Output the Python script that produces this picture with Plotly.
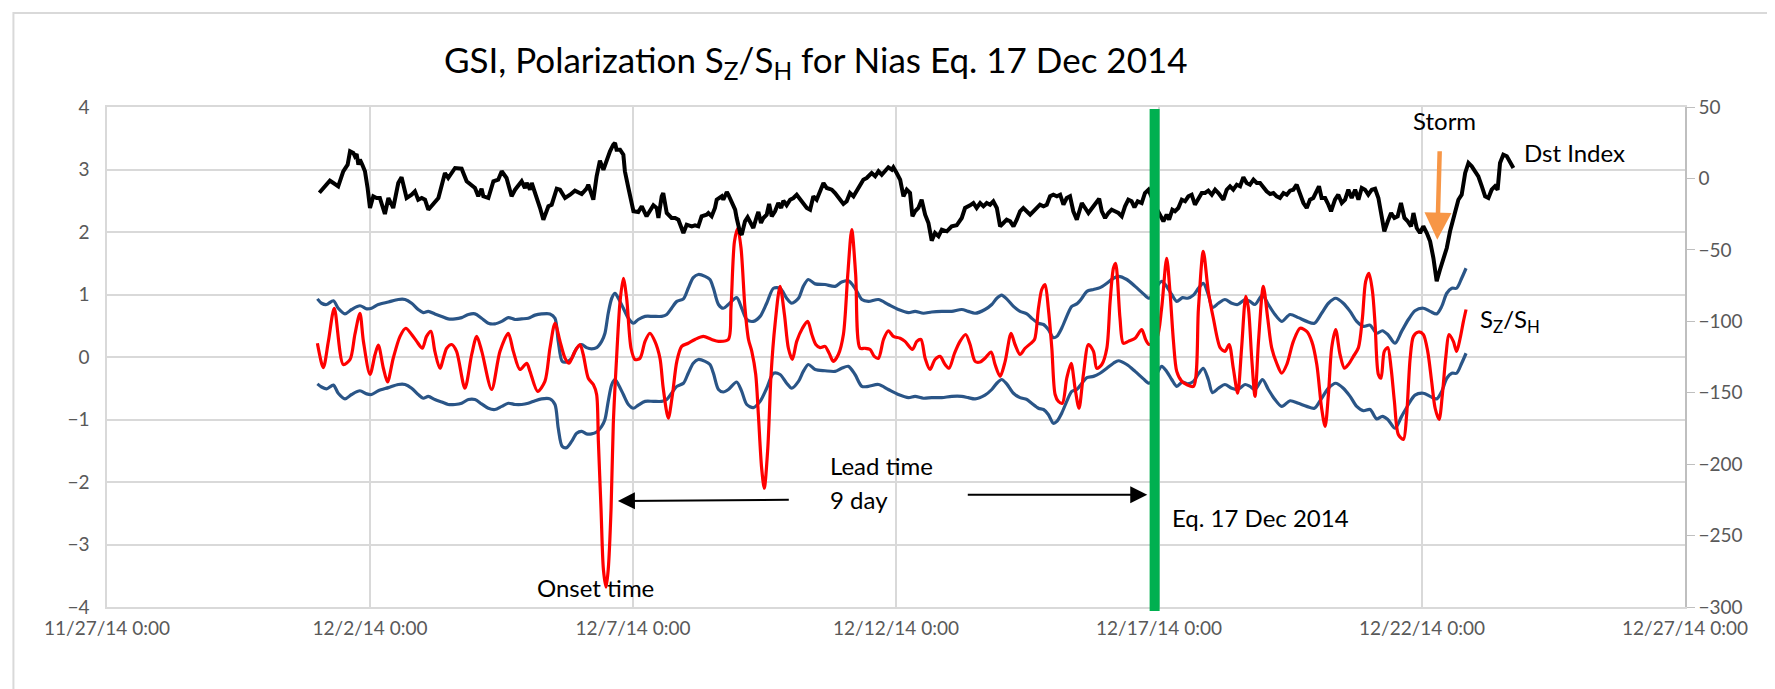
import pandas as pd
import plotly.graph_objects as go

# ---------------- data (hours after 2014-12-01 00:00) ----------------
dst_hours = [
    0.9, 3.5, 5.7, 7.3, 9.5, 11.8, 13.8, 14.9, 16.4, 17.1,
    17.9, 18.7, 19.4, 20.5, 21.7, 22.9, 24.0, 25.5, 27.0, 28.5,
    30.8, 32.4, 34.6, 36.9, 38.4, 40.7, 43.0, 44.5, 46.0, 47.6,
    49.1, 50.6, 52.9, 55.2, 58.2, 59.7, 62.8, 64.3, 65.8, 68.1,
    70.4, 71.9, 73.4, 74.9, 75.7, 78.0, 80.3, 82.5, 84.1, 86.3,
    88.6, 90.2, 93.2, 94.7, 95.5, 97.0, 97.8, 100.0, 101.6, 103.1,
    105.4, 106.9, 109.2, 110.7, 113.0, 115.3, 117.5, 120.6, 122.8, 123.6,
    125.9, 127.4, 128.9, 130.5, 132.0, 133.5, 135.0, 135.8, 136.5, 138.1,
    139.6, 140.3, 141.9, 144.2, 146.4, 148.0, 150.2, 153.3, 154.8, 155.6,
    157.1, 157.8, 159.4, 161.6, 163.2, 164.7, 167.0, 168.5, 170.8, 172.3,
    173.8, 175.3, 177.6,
    178.4, 179.9, 181.4, 182.2, 183.7, 184.5, 185.2, 186.8, 187.5, 189.0,
    190.6, 191.3, 192.9, 193.6, 195.1, 196.3, 197.4, 198.9, 200.5, 201.2,
    202.4, 203.5, 205.0, 206.1, 207.3, 208.8, 210.3, 211.6, 212.6, 214.1,
    215.7, 217.2, 218.7, 221.0, 223.3, 224.8, 226.3, 227.8, 229.4, 230.9,
    232.4, 234.7, 236.2, 238.5, 240.0, 241.5, 243.0, 244.6, 246.1, 247.6,
    249.1, 250.6, 252.9, 254.5, 256.0, 257.5, 259.0, 260.5, 262.1, 262.8,
    264.3, 265.9, 267.4, 268.9, 270.4, 271.5, 272.7, 274.2, 275.7, 277.3,
    278.8, 280.3, 281.8, 283.4, 284.9, 287.2, 289.4, 291.7, 294.0, 295.5,
    297.8, 299.3, 300.8, 302.4, 303.9, 305.4, 306.9, 308.4, 310.0, 311.5,
    313.0, 314.5, 316.1, 317.6, 319.1, 320.6, 322.1, 323.7, 325.2, 326.7,
    328.2, 329.7, 331.3, 332.8, 334.3, 335.8, 337.4, 338.9, 340.4, 341.9,
    343.4, 344.9, 346.5, 348.0, 348.8, 350.3, 351.8, 354.1, 355.6, 356.7,
    357.9, 359.4,
    360.9, 362.4, 363.9, 365.5, 367.0, 368.5, 370.0, 371.5, 372.8, 374.3,
    376.1, 377.6, 379.2, 382.5, 386.0, 387.5, 388.6, 390.1, 391.3, 392.8,
    394.4, 395.9, 397.4, 398.9, 400.4, 402.0, 403.5, 405.0, 406.5, 408.1,
    409.6, 411.1, 413.4, 414.9, 416.4, 417.9, 419.5, 421.0, 422.5, 424.0,
    425.5, 427.1, 428.6, 430.1, 431.6, 433.1, 434.7, 436.2, 437.7, 439.2,
    440.8, 442.3, 443.8, 445.3, 446.8, 448.4, 449.9, 451.4, 452.9, 454.4,
    456.0, 457.0, 458.2, 459.8, 461.3, 462.5, 464.3, 465.8, 467.4, 468.9,
    470.4, 471.9, 473.5, 475.0, 476.5, 478.0, 479.5, 481.1, 482.6, 484.1,
    485.6, 486.8, 488.4, 489.9, 491.4, 492.9, 494.4, 496.0, 497.5, 499.0,
    500.1, 501.6, 503.1, 504.6, 506.2, 507.7, 509.2, 510.7, 512.2, 513.8,
    515.3, 516.8, 519.1, 520.6, 522.1, 523.7, 525.2, 526.7, 528.2, 529.7,
    531.3, 532.8, 534.3, 535.8, 537.3, 538.5, 539.6, 541.1, 542.7, 544.2,
    545.7,
]
dst_values = [
    -10, -5.5, -1.6, -3.2, -5.5, 5.0, 9.6, 19.0, 17.8, 15.5,
    17.1, 9.6, 13.1, 9.6, 5.0, -6.7, -20.7, -12.5, -13.7, -13.7,
    -24.9, -13.7, -20.7, -3.2, 0.8, -13.7, -11.4, -9.0, -14.9, -13.7,
    -14.9, -21.9, -17.9, -13.7, 3.8, 0.3, 7.3, 7.3, 6.8, -2.0,
    -4.8, -6.7, -12.5, -7.2, -12.5, -13.7, -2.0, -0.9, 5.0, 0.3,
    -12.5, -7.9, -2.0, -6.7, -3.2, -7.9, -3.2, -12.5, -20.7, -28.9,
    -19.5, -18.4, -7.2, -7.9, -13.7, -11.4, -8.6, -10.9, -7.2, -4.4,
    -14.9, 1.5, 12.4, 6.1, 13.1, 19.0, 23.6, 24.8, 20.1, 20.1,
    16.6, 5.0, -6.7, -23.0, -23.5, -19.5, -26.5, -18.8, -20.7, -27.7,
    -12.5, -10.2, -24.2, -27.7, -27.7, -28.9, -38.2, -32.4, -33.5, -32.8,
    -33.5, -26.5, -25.4,
    -24.2, -26.5, -20.7, -14.9, -13.7, -12.5, -14.9, -9.5, -11.4, -17.2,
    -21.9, -27.7, -38.2, -39.4, -30.0, -27.2, -30.0, -34.7, -26.5, -23.5,
    -31.2, -27.7, -25.4, -17.9, -26.5, -23.0, -17.2, -20.7, -15.6, -18.8,
    -14.9, -13.7, -11.4, -16.0, -20.7, -21.9, -12.5, -14.9, -9.0, -3.2,
    -6.7, -7.9, -10.2, -14.9, -17.9, -16.0, -10.2, -12.5, -9.0, -5.5,
    -0.9, 0.3, 3.8, 1.5, 5.0, 2.6, 5.0, 7.8, 6.1, 7.8,
    3.8, -0.9, -12.5, -7.9, -10.2, -26.5, -23.0, -20.7, -14.9, -25.4,
    -31.2, -43.6, -38.2, -40.5, -35.9, -37.0, -33.5, -32.8, -27.7, -20.7,
    -18.8, -17.2, -20.7, -17.2, -19.5, -17.2, -18.4, -16.0, -20.7, -33.5,
    -31.2, -28.9, -30.0, -33.5, -28.9, -23.0, -20.7, -23.0, -25.4, -23.0,
    -20.7, -18.4, -19.5, -18.4, -12.5, -11.4, -12.5, -11.4, -18.4, -13.7,
    -12.5, -23.0, -28.9, -20.7, -17.2, -20.7, -24.2, -19.5, -16.0, -14.2,
    -23.0, -27.7,
    -24.2, -21.9, -23.0, -24.2, -26.5, -19.5, -14.9, -16.0, -20.2, -16.0,
    -17.2, -10.2, -7.9, -20.0, -30.0, -25.4, -28.9, -21.9, -23.0, -20.7,
    -14.9, -16.0, -12.5, -11.4, -18.4, -13.7, -10.2, -10.2, -8.6, -11.4,
    -7.9, -10.2, -14.9, -7.9, -5.5, -7.9, -4.4, -5.5, 0.8, -3.2,
    -4.4, -0.9, -3.2, -3.2, -6.7, -9.0, -10.9, -10.2, -12.5, -13.7,
    -10.2, -11.4, -8.6, -7.9, -4.4, -10.2, -17.2, -20.7, -14.9, -13.7,
    -8.6, -5.5, -13.7, -13.7, -18.4, -23.0, -14.9, -11.4, -17.2, -14.9,
    -7.9, -13.7, -7.9, -14.9, -6.7, -7.9, -11.4, -7.9, -7.2, -13.7,
    -26.5, -37.0, -30.0, -24.2, -27.7, -26.5, -17.2, -27.7, -30.0, -33.5,
    -24.2, -34.7, -38.2, -33.5, -38.2, -44.0, -55.7, -72.0, -63.9, -55.7,
    -48.7, -37.0, -24.2, -14.9, -11.4, 3.8, 10.8, 8.5, 5.0, 1.5,
    -5.5, -12.5, -13.7, -7.9, -5.5, -7.9, 10.8, 16.6, 15.5, 12.0,
    7.3,
]

ratio_hours = [
    0.0, 2.7, 5.0, 7.7, 11.8, 14.9, 17.1, 19.4, 21.0, 24.0,
    26.3, 27.8, 30.1, 32.0, 34.6, 37.7, 40.3, 43.0, 45.3, 47.9,
    49.8, 51.8, 53.6, 55.9, 59.0, 61.3, 63.5, 67.3, 70.4, 72.7,
    75.0, 79.5, 83.3, 87.1, 89.4, 92.4, 95.5, 97.0, 100.5, 103.8,
    106.1, 108.4, 110.7, 113.0, 114.8, 117.5, 119.8, 121.3, 123.6, 125.9,
    127.4, 128.2, 129.4, 130.5, 131.7, 132.7, 134.0, 135.0, 136.5, 138.1,
    139.6, 141.1, 143.1, 144.9, 147.2, 149.5, 151.7, 154.0, 156.3, 157.8,
    160.1, 162.0, 164.0, 166.2, 169.2, 172.3, 176.1, 179.9, 183.0, 187.5,
    188.7, 190.3, 191.8, 193.3, 195.1, 196.7, 198.2, 200.0, 201.2, 202.7,
    203.9, 205.5, 207.0, 208.8, 211.1, 213.1, 214.9, 216.7, 218.7, 221.3,
    223.7, 225.6, 227.4, 229.4, 231.6, 233.5, 235.4, 237.7, 240.0, 242.0,
    243.8, 245.6, 247.6, 249.9, 252.2, 254.1, 256.0, 258.3, 260.5, 262.8,
    265.9, 268.1, 271.5, 273.5, 275.4, 277.3, 279.5, 281.8, 284.1, 286.4,
    288.2, 290.7, 293.2, 295.8, 297.8, 300.1, 302.4, 304.6, 307.4, 309.2,
    311.5, 313.8, 316.5, 318.3, 320.6, 322.9, 325.2, 327.2, 329.0, 330.5,
    332.0, 333.5, 335.1, 336.6, 338.1, 339.9, 341.9, 343.9, 345.7, 347.5,
    349.5, 351.8, 354.1, 355.6, 357.9, 360.2, 361.7, 363.2, 364.2, 366.2,
    367.7, 370.0, 373.1, 376.1, 377.9, 379.5, 383.0, 385.2, 387.5, 389.0,
    390.6, 392.1, 394.4, 396.6, 399.7, 402.0, 404.2, 406.5, 408.8, 411.9,
    414.1, 416.0, 417.9, 419.9, 421.7, 423.6, 424.8, 426.3, 427.8, 429.4,
    431.6, 433.6, 435.4, 437.7, 440.0, 442.3, 445.3, 448.4, 451.4, 453.7,
    456.0, 458.2, 459.8, 461.3, 462.8, 464.6, 466.6, 468.6, 470.4, 472.7,
    475.0, 476.8, 478.3, 479.8, 481.4, 482.6, 484.1, 485.3, 486.8, 488.4,
    489.9, 491.4, 493.2, 495.5, 497.0, 498.6, 500.1, 502.4, 504.6, 506.6,
    508.4, 510.0, 511.8, 513.3, 514.8, 516.4, 518.3, 519.8, 521.4, 522.9,
    524.1,
]
ratio_values = [
    0.22, -0.17, 0.25, 0.78, -0.12, -0.04, 0.36, 0.70, 0.25, -0.28,
    0.04, 0.19, -0.18, -0.40, -0.02, 0.33, 0.46, 0.36, 0.25, 0.14,
    0.33, 0.41, 0.09, -0.18, 0.14, 0.20, 0.09, -0.50, 0.04, 0.33,
    0.09, -0.52, 0.09, 0.38, 0.09, -0.20, -0.10, -0.23, -0.55, -0.39,
    0.14, 0.54, 0.25, -0.02, -0.10, 0.09, 0.20, 0.04, -0.34, -0.44,
    -0.60, -1.35, -2.42, -3.40, -3.68, -3.40, -2.42, -1.08, -0.02, 0.89,
    1.26, 0.94, 0.14, -0.04, -0.02, 0.25, 0.38, 0.25, -0.02, -0.50,
    -0.98, -0.60, -0.07, 0.17, 0.22, 0.28, 0.33, 0.28, 0.25, 0.28,
    0.78, 1.85, 2.06, 1.74, 0.78, 0.28, 0.09, -0.28, -0.92, -1.78,
    -2.10, -1.46, -0.28, 0.52, 1.13, 0.68, 0.14, -0.04, 0.25, 0.46,
    0.57, 0.36, 0.20, 0.15, 0.17, 0.06, -0.07, 0.04, 0.36, 1.32,
    2.04, 1.32, 0.14, 0.14, 0.12, 0.01, -0.02, 0.28, 0.42, 0.33,
    0.30, 0.25, 0.12, 0.25, 0.28, -0.02, -0.20, -0.04, 0.01, -0.12,
    -0.18, 0.06, 0.25, 0.36, 0.20, -0.07, -0.08, -0.02, 0.08, -0.12,
    -0.31, -0.07, 0.38, 0.20, 0.04, 0.14, 0.21, 0.28, 0.78, 1.08,
    1.16, 0.78, 0.14, -0.60, -0.71, -0.74, -0.34, -0.10, -0.50, -0.82,
    -0.28, 0.20, 0.09, -0.18, -0.12, 0.14, 0.89, 1.42, 1.50, 0.62,
    0.22, 0.25, 0.30, 0.44, 0.28, 0.20, 0.30, 0.78, 1.58, 1.05,
    0.25, -0.23, -0.39, -0.44, -0.47, 0.78, 1.69, 1.05, 0.62, 0.15,
    0.09, 0.20, -0.18, -0.58, 0.15, 0.97, 0.78, -0.02, -0.63, 0.25,
    1.13, 0.62, 0.15, -0.10, -0.26, -0.12, 0.25, 0.46, 0.41, 0.25,
    -0.12, -0.82, -1.11, -0.60, 0.15, 0.44, 0.04, -0.18, -0.12, 0.01,
    0.15, 0.62, 1.21, 1.34, 1.05, 0.52, -0.28, -0.34, 0.09, 0.15,
    -0.18, -0.71, -1.24, -1.32, -0.92, -0.02, 0.33, 0.40, 0.36, 0.09,
    -0.39, -0.82, -1.00, -0.60, -0.02, 0.36, 0.25, 0.09, 0.30, 0.57,
    0.76,
]

band_hours = [
    0.0, 1.9, 4.2, 7.3, 9.5, 12.6, 15.6, 19.4, 22.5, 24.7,
    27.8, 32.4, 36.9, 40.0, 43.0, 46.0, 48.3, 50.6, 53.6, 56.7,
    59.7, 62.8, 65.8, 68.9, 71.9, 74.9, 78.0, 81.0, 84.1, 87.1,
    90.2, 93.2, 96.2, 99.3, 102.3, 106.1, 108.4, 109.9, 111.7, 113.7,
    116.0, 118.3, 120.6, 122.8, 125.1, 127.4, 129.7, 131.2, 132.7, 134.3,
    135.8, 137.3, 139.6, 141.9, 144.2, 146.4, 149.5, 153.3, 157.1, 159.4,
    161.6, 164.0, 167.0, 169.2, 171.5, 173.8, 176.9, 179.1, 180.7, 183.0,
    185.2, 187.5, 191.3, 193.6, 195.9, 198.9, 202.0, 205.0, 208.1, 211.1,
    214.1, 216.4, 219.5, 221.7, 224.0, 227.1, 231.6, 236.2, 239.2, 242.3,
    245.3, 248.4, 251.4, 256.0, 260.5, 265.1, 269.7, 272.7, 276.5, 280.3,
    284.9, 289.4, 294.0, 297.0, 300.1, 304.6, 307.7, 310.0, 312.2, 314.5,
    317.6, 320.6, 323.7, 325.9, 329.0, 331.3, 333.5, 335.8, 337.4, 339.6,
    341.9, 344.2, 346.5, 348.8, 351.1, 354.1, 357.1, 360.2, 363.2, 365.5,
    369.3, 373.1, 376.9, 379.5, 382.5, 385.2, 387.5, 389.8, 392.1, 394.7,
    397.1, 399.7, 402.0, 404.2, 406.5, 408.4, 411.1, 414.1, 417.2, 419.9,
    423.3, 425.5, 427.8, 431.2, 433.9, 436.9, 440.0, 443.8, 447.6, 451.4,
    454.9, 458.2, 461.3, 464.6, 468.1, 471.2, 474.2, 477.3, 480.3, 483.3,
    485.9, 488.4, 491.7, 494.7, 497.8, 500.8, 504.6, 507.7, 510.7, 513.0,
    515.3, 517.6, 519.8, 522.1, 524.1,
]
upper_values = [
    0.93, 0.86, 0.84, 0.90, 0.78, 0.69, 0.76, 0.82, 0.77, 0.78,
    0.84, 0.88, 0.92, 0.92, 0.86, 0.76, 0.71, 0.73, 0.69, 0.65,
    0.61, 0.61, 0.63, 0.68, 0.69, 0.62, 0.54, 0.53, 0.57, 0.63,
    0.60, 0.61, 0.62, 0.67, 0.69, 0.69, 0.62, 0.25, -0.07, -0.08,
    -0.02, 0.14, 0.20, 0.15, 0.13, 0.15, 0.25, 0.38, 0.70, 0.94,
    1.02, 0.94, 0.78, 0.62, 0.54, 0.60, 0.65, 0.65, 0.65, 0.68,
    0.78, 0.89, 0.93, 1.10, 1.27, 1.32, 1.29, 1.24, 1.10, 0.84,
    0.78, 0.84, 0.95, 0.78, 0.60, 0.57, 0.65, 0.86, 1.10, 1.10,
    0.94, 0.86, 0.94, 1.13, 1.24, 1.17, 1.16, 1.13, 1.20, 1.22,
    1.10, 0.92, 0.89, 0.92, 0.84, 0.76, 0.71, 0.73, 0.70, 0.72,
    0.73, 0.73, 0.76, 0.73, 0.70, 0.76, 0.84, 0.94, 0.99, 0.93,
    0.81, 0.73, 0.69, 0.62, 0.54, 0.52, 0.44, 0.31, 0.33, 0.46,
    0.65, 0.81, 0.85, 0.94, 1.05, 1.08, 1.11, 1.18, 1.26, 1.29,
    1.24, 1.13, 1.01, 0.94, 1.10, 1.21, 1.13, 1.00, 0.89, 0.95,
    0.94, 0.99, 1.10, 1.18, 1.00, 0.79, 0.86, 0.92, 0.86, 0.84,
    0.92, 0.89, 0.84, 0.99, 0.84, 0.68, 0.57, 0.68, 0.63, 0.57,
    0.54, 0.70, 0.86, 0.94, 0.86, 0.73, 0.57, 0.49, 0.51, 0.38,
    0.42, 0.36, 0.22, 0.41, 0.60, 0.74, 0.78, 0.73, 0.69, 0.81,
    1.02, 1.10, 1.10, 1.26, 1.42,
]
lower_values = [
    -0.43, -0.48, -0.51, -0.45, -0.58, -0.67, -0.60, -0.54, -0.59, -0.60,
    -0.54, -0.49, -0.44, -0.44, -0.50, -0.60, -0.66, -0.63, -0.68, -0.72,
    -0.76, -0.76, -0.74, -0.68, -0.68, -0.75, -0.82, -0.84, -0.79, -0.74,
    -0.76, -0.76, -0.74, -0.70, -0.67, -0.67, -0.76, -1.14, -1.43, -1.45,
    -1.35, -1.22, -1.19, -1.23, -1.23, -1.20, -1.11, -1.00, -0.71, -0.44,
    -0.36, -0.44, -0.60, -0.76, -0.82, -0.77, -0.71, -0.71, -0.71, -0.68,
    -0.58, -0.47, -0.42, -0.26, -0.10, -0.04, -0.07, -0.12, -0.26, -0.52,
    -0.56, -0.52, -0.40, -0.55, -0.76, -0.81, -0.71, -0.50, -0.26, -0.28,
    -0.42, -0.50, -0.39, -0.23, -0.12, -0.20, -0.22, -0.23, -0.18, -0.15,
    -0.28, -0.47, -0.47, -0.44, -0.52, -0.60, -0.65, -0.63, -0.66, -0.65,
    -0.65, -0.63, -0.63, -0.65, -0.67, -0.61, -0.52, -0.42, -0.36, -0.43,
    -0.58, -0.65, -0.68, -0.74, -0.82, -0.84, -0.92, -1.06, -1.03, -0.90,
    -0.71, -0.55, -0.52, -0.42, -0.33, -0.31, -0.26, -0.18, -0.10, -0.06,
    -0.12, -0.23, -0.35, -0.42, -0.30, -0.15, -0.23, -0.36, -0.47, -0.40,
    -0.43, -0.39, -0.27, -0.18, -0.36, -0.57, -0.50, -0.44, -0.50, -0.52,
    -0.44, -0.47, -0.52, -0.36, -0.52, -0.68, -0.79, -0.70, -0.74, -0.79,
    -0.82, -0.66, -0.50, -0.42, -0.50, -0.63, -0.79, -0.86, -0.84, -0.99,
    -0.95, -1.00, -1.14, -0.95, -0.76, -0.61, -0.58, -0.63, -0.67, -0.55,
    -0.34, -0.26, -0.26, -0.10, 0.06,
]

x_ticks = ["2014-11-27", "2014-12-02", "2014-12-07", "2014-12-12",
           "2014-12-17", "2014-12-22", "2014-12-27"]
title_text = "GSI, Polarization S<sub>Z</sub>/S<sub>H</sub> for Nias Eq. 17 Dec 2014"
eq_time = "2014-12-16 22:00"

assert len(dst_hours) == len(dst_values)
assert len(ratio_hours) == len(ratio_values)
assert len(band_hours) == len(upper_values) == len(lower_values)

base = pd.Timestamp("2014-12-01")
def to_time(hours):
    return base + pd.to_timedelta(pd.Series(hours), unit="h")

FONT = "Lato, 'Open Sans', sans-serif"
GRID = "#D9D9D9"
TICKC = "#595959"
BLUE = "#2A5587"

fig = go.Figure()
fig.add_trace(go.Scatter(x=to_time(band_hours), y=upper_values, mode="lines",
                         line=dict(color=BLUE, width=3.2, shape="spline", smoothing=0.8),
                         hoverinfo="skip"))
fig.add_trace(go.Scatter(x=to_time(band_hours), y=lower_values, mode="lines",
                         line=dict(color=BLUE, width=3.2, shape="spline", smoothing=0.8),
                         hoverinfo="skip"))
fig.add_trace(go.Scatter(x=to_time(ratio_hours), y=ratio_values, mode="lines",
                         line=dict(color="#FF0000", width=3.2, shape="spline", smoothing=0.8),
                         hoverinfo="skip"))
fig.add_trace(go.Scatter(x=to_time(dst_hours), y=dst_values, mode="lines", yaxis="y2",
                         line=dict(color="#000000", width=4), hoverinfo="skip"))

fig.update_layout(
    width=1775, height=689,
    margin=dict(l=99, r=98, t=99, b=90),
    paper_bgcolor="white", plot_bgcolor="white",
    showlegend=False,
    font=dict(family=FONT, color=TICKC, size=18),
    xaxis=dict(type="date", range=["2014-11-27", "2014-12-27"],
               tickvals=x_ticks, tickformat="%-m/%-d/%y %-H:%M",
               showgrid=True, gridcolor=GRID, gridwidth=1.5,
               showline=True, linecolor=GRID, linewidth=1.5, mirror=True,
               zeroline=False, ticks="outside", ticklen=3, tickcolor="rgba(0,0,0,0)",
               tickfont=dict(size=19, color=TICKC, family=FONT)),
    yaxis=dict(range=[-4, 4], dtick=1, showgrid=True, gridcolor=GRID, gridwidth=1.5,
               zeroline=False, showline=True, linecolor=GRID, linewidth=1.5, mirror=True,
               ticks="outside", ticklen=12, tickcolor="rgba(0,0,0,0)",
               tickfont=dict(size=19, color=TICKC, family=FONT)),
    yaxis2=dict(range=[-300, 50], dtick=50, overlaying="y", side="right",
                showgrid=False, zeroline=False, showline=True, linecolor="#BFBFBF",
                linewidth=1.5, ticks="outside", ticklen=8, tickcolor="#BFBFBF",
                tickfont=dict(size=19, color=TICKC, family=FONT)),
)

# chart-area border
fig.add_shape(type="rect", xref="paper", yref="paper",
              x0=-0.0593, x1=1.0577, y0=-0.2, y1=1.188,
              line=dict(color=GRID, width=2), layer="below")
# earthquake marker
fig.add_shape(type="line", xref="x", yref="paper", x0=eq_time, x1=eq_time,
              y0=-0.008, y1=0.996, line=dict(color="#00B050", width=10), layer="above")

# title
fig.add_annotation(text=title_text, xref="paper", yref="paper", x=0.4493, y=1.09,
                   xanchor="center", yanchor="middle", showarrow=False,
                   font=dict(size=35, color="#000000", family=FONT))

TXT = dict(size=24, color="#000000", family=FONT)
def label(text, x, y, xanchor="left"):
    fig.add_annotation(text=text, x=x, y=y, xref="x", yref="y", showarrow=False,
                       xanchor=xanchor, yanchor="middle", font=TXT)

label("Storm", "2014-12-22 10:05", 3.78, "center")
label("Dst Index", "2014-12-23 21:46", 3.27)
label("S<sub>Z</sub>/S<sub>H</sub>", "2014-12-23 01:26", 0.58)
label("Eq. 17 Dec 2014", "2014-12-17 05:10", -2.57)
label("Lead time", "2014-12-10 17:00", -1.74)
label("9 day", "2014-12-10 17:00", -2.28)
label("Onset time", "2014-12-06 07:00", -3.68, "center")

def arrow(x_head, y_head, x_tail, y_tail, color, width, size):
    fig.add_annotation(text="", x=x_head, y=y_head, ax=x_tail, ay=y_tail,
                       xref="x", yref="y", axref="x", ayref="y",
                       showarrow=True, arrowhead=2, arrowsize=size, arrowwidth=width,
                       arrowcolor=color, standoff=0, startstandoff=0)

arrow("2014-12-06 17:07", -2.304, "2014-12-09 23:46", -2.283, "#000000", 2, 1.7)
arrow("2014-12-16 18:39", -2.203, "2014-12-13 08:04", -2.203, "#000000", 2, 1.7)
arrow("2014-12-22 06:58", 1.877, "2014-12-22 08:05", 3.317, "#F79646", 4.5, 1.2)

fig.write_html("out.html")
